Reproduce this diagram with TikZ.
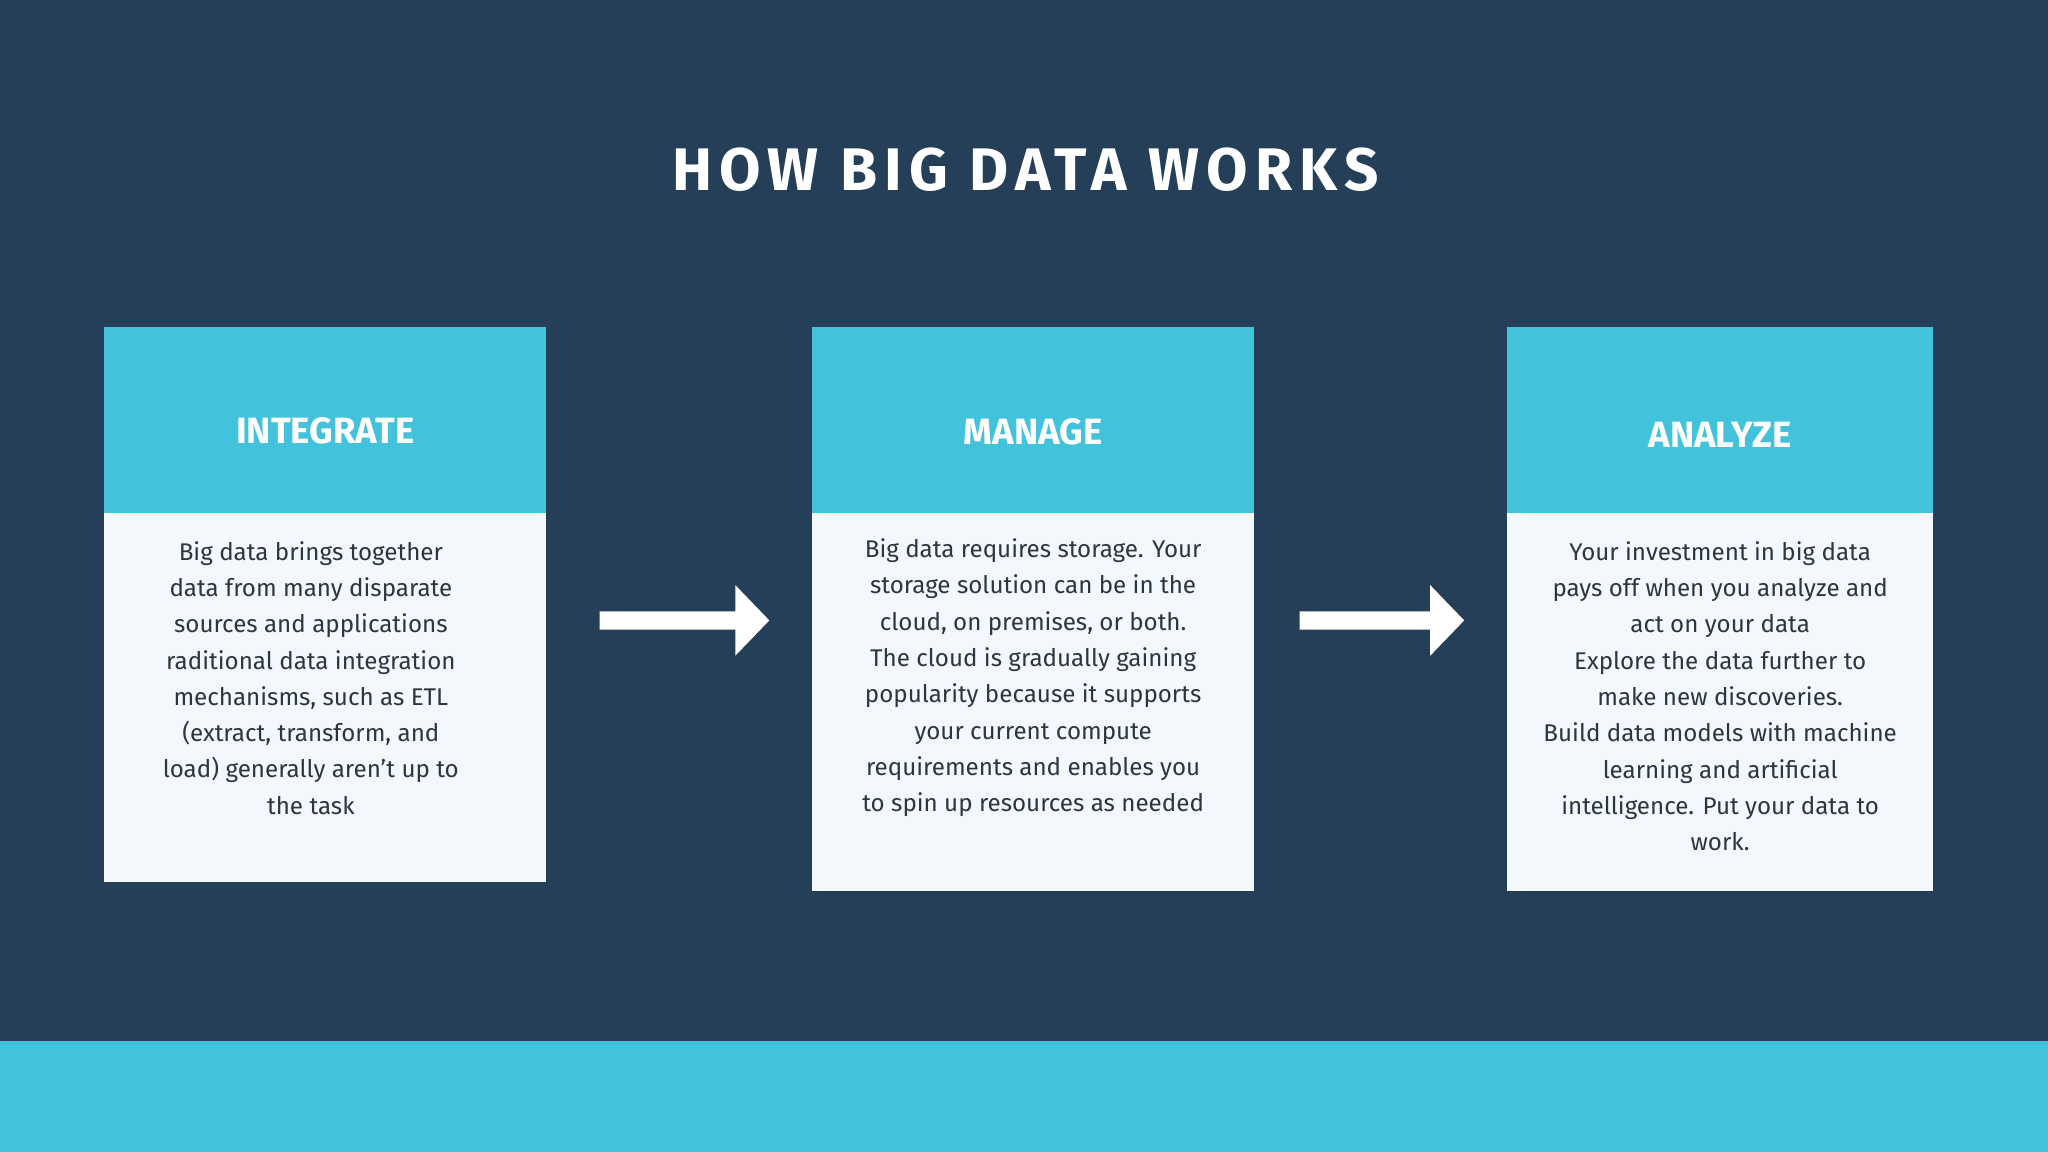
\documentclass[tikz,border=0pt]{standalone}
\usepackage{fontspec}
\setmainfont{Fira Sans}
\newfontfamily\titlefont[LetterSpace=12]{Fira Sans}
\definecolor{bg}{HTML}{243F57}
\definecolor{cyanb}{HTML}{42C2DB}
\definecolor{bodyc}{HTML}{F2F8FC}
\definecolor{txt}{HTML}{2E3440}
\begin{document}
\begin{tikzpicture}[x=1pt,y=-1pt,
  hdr/.style={font=\fontsize{28}{32}\selectfont\bfseries, text=white},
  bodytxt/.style={font=\fontsize{18.5}{27.8}\selectfont, text=txt, align=center},
  arr/.style={fill=white}]
\fill[bg] (0,0) rectangle (1568,882);
\useasboundingbox (0,0) rectangle (1568,882);
\fill[cyanb] (0,797) rectangle (1568,882);
\node[font=\titlefont\fontsize{46}{50}\selectfont\bfseries, text=white] (title) at (785,130) {HOW BIG DATA WORKS};
% boxes
\fill[cyanb] (80,250) rectangle (418,393);
\fill[bodyc] (80,393) rectangle (418,675);
\fill[cyanb] (622,250) rectangle (960,393);
\fill[bodyc] (622,393) rectangle (960,682);
\fill[cyanb] (1154,250) rectangle (1480,393);
\fill[bodyc] (1154,393) rectangle (1480,682);
\node[hdr] (h1) at (249,330) {INTEGRATE};
\node[hdr] (h2) at (791,331) {MANAGE};
\node[hdr] (h3) at (1317,333) {ANALYZE};
\node[bodytxt] (b1) at (238,519) {Big data brings together\\data from many disparate\\sources and applications\\raditional data integration\\mechanisms, such as ETL\\(extract, transform, and\\load) generally aren’t up to\\the task};
\node[bodytxt] (b2) at (791,519) {Big data requires storage. Your\\storage solution can be in the\\cloud, on premises, or both.\\The cloud is gradually gaining\\popularity because it supports\\your current compute\\requirements and enables you\\to spin up resources as needed};
\node[bodytxt] (b3) at (1317,533) {Your investment in big data\\pays off when you analyze and\\act on your data\\Explore the data further to\\make new discoveries.\\Build data models with machine\\learning and artificial\\intelligence. Put your data to\\work.};
% arrows
\fill[arr] (459,468) -- (563,468) -- (563,448) -- (589,475) -- (563,502) -- (563,482) -- (459,482) -- cycle;
\fill[arr] (995,468) -- (1095,468) -- (1095,448) -- (1121,475) -- (1095,502) -- (1095,482) -- (995,482) -- cycle;
\end{tikzpicture}
\end{document}
